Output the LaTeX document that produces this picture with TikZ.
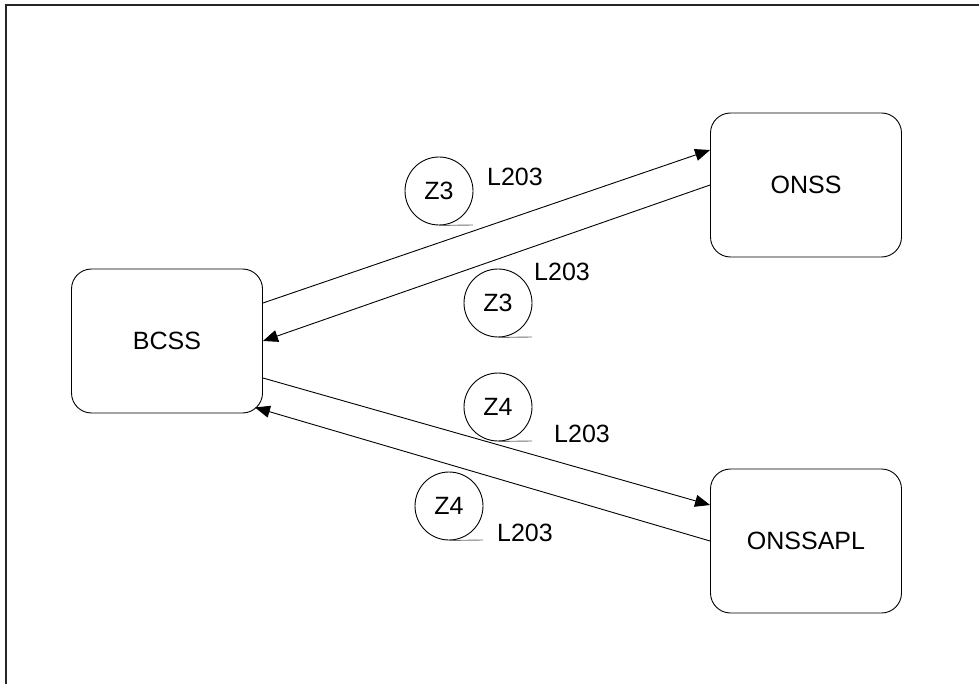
\documentclass[tikz,border=0pt]{standalone}
\usepackage{fontspec}
\setmainfont{Liberation Sans}
\usetikzlibrary{arrows.meta}
\begin{document}
\begin{tikzpicture}[x=1pt,y=-1pt,
  lbl/.style={font=\fontsize{25}{30}\selectfont, inner sep=0pt},
  sysbox/.style={draw, line width=0.9pt, rounded corners=20pt, minimum width=191pt, minimum height=144pt, inner sep=0pt, font=\fontsize{25}{30}\selectfont},
  zone/.style={draw, circle, line width=0.9pt, minimum size=68pt, inner sep=0pt, font=\fontsize{25}{30}\selectfont},
  flow/.style={line width=0.9pt, -{Triangle[length=15pt,width=12pt]}},
  uline/.style={draw=black!55, line width=0.9pt}
]
\useasboundingbox (0,0) rectangle (979,684);
\fill[white] (0,0) rectangle (979,684);
\draw[line width=2pt, black!85] (6,690) -- (6,5) -- (985,5);

\node[sysbox] (bcss) at (167,341) {BCSS};
\node[sysbox] (onss) at (806,185) {ONSS};
\node[sysbox] (onssapl) at (806,541) {ONSSAPL};

\draw[flow] ([yshift=38pt]bcss.east) -- ([yshift=35pt]onss.west);
\draw[flow] (onss.west) -- (bcss.east);
\draw[flow] ([yshift=-37pt]bcss.east) -- ([yshift=36pt]onssapl.west);
\draw[flow] (onssapl.west) -- ([xshift=-8pt,yshift=6pt]bcss.south east);

\node[zone] (za) at (439,191) {Z3};
\coordinate (zae) at (473,225);
\draw[uline] (za.south) -- (zae);
\node[lbl] (la) at (515,177) {L203};

\node[zone] (zb) at (498,303) {Z3};
\coordinate (zbe) at (532,337);
\draw[uline] (zb.south) -- (zbe);
\node[lbl] (lb) at (562,272) {L203};

\node[zone] (zc) at (498,407) {Z4};
\coordinate (zce) at (532,441);
\draw[uline] (zc.south) -- (zce);
\node[lbl] (lc) at (582,434) {L203};

\node[zone] (zd) at (449,506) {Z4};
\coordinate (zde) at (483,540);
\draw[uline] (zd.south) -- (zde);
\node[lbl] (ld) at (525,533) {L203};
\end{tikzpicture}
\end{document}
